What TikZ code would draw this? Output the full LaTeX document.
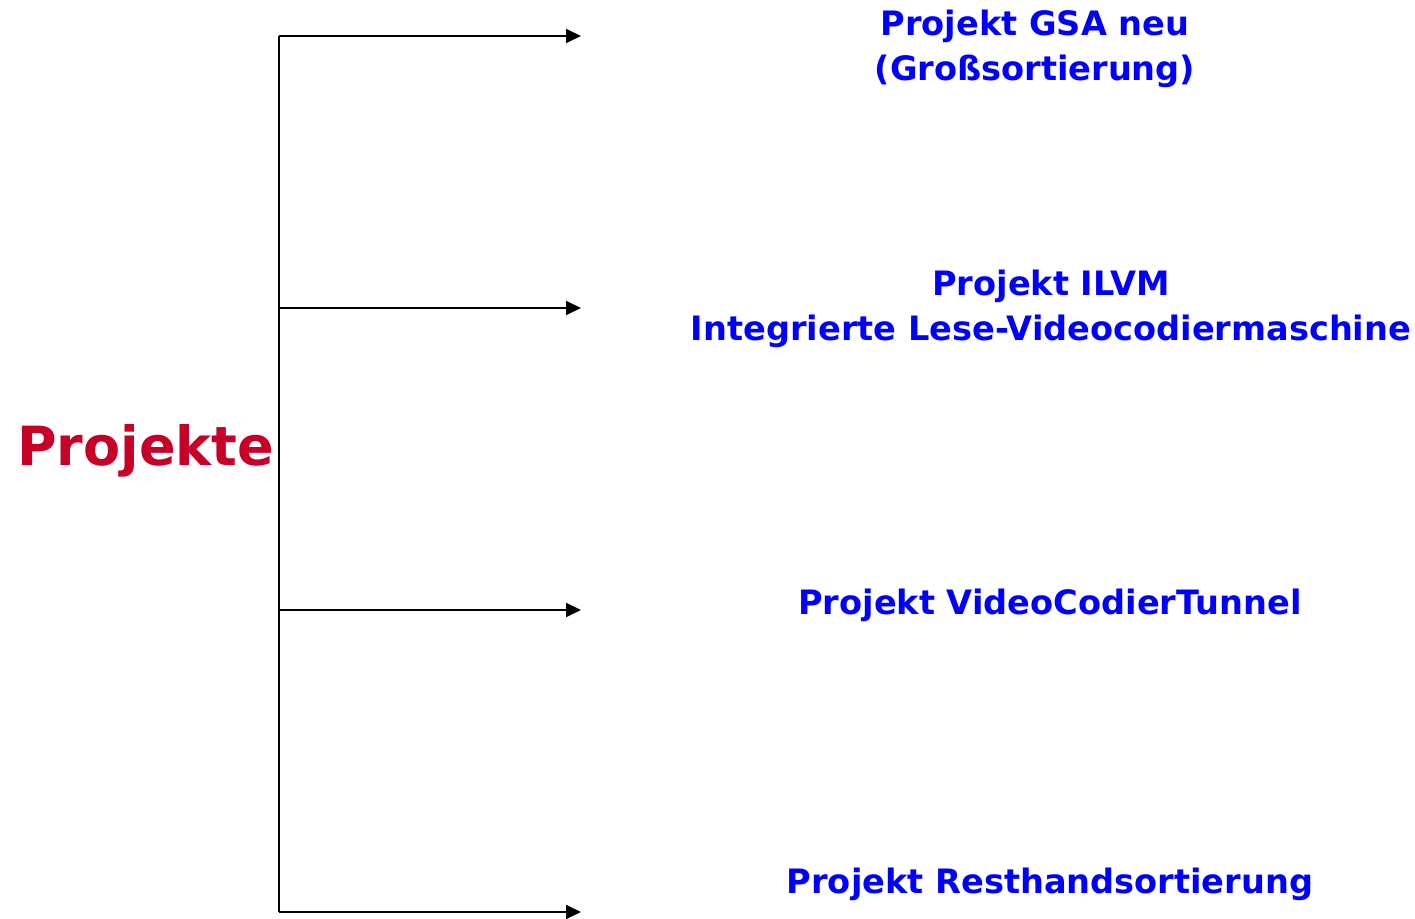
\documentclass[tikz,border=0pt]{standalone}
\usepackage{fontspec}
\setmainfont{DejaVu Sans}
\usetikzlibrary{arrows.meta}

\definecolor{projred}{RGB}{200,0,40}
\definecolor{projblue}{RGB}{0,0,255}

\tikzset{
  projtitle/.style={text=projred, font=\bfseries\fontsize{27}{32}\selectfont, inner sep=0pt},
  projitem/.style={text=projblue, font=\bfseries\fontsize{16.8}{22.5}\selectfont, align=center, inner sep=0pt},
  branch/.style={line width=1pt, -{Triangle[length=7.5pt,width=7pt]}}
}

\begin{document}
\begin{tikzpicture}[x=0.5pt,y=-0.5pt]
  \useasboundingbox (0,0) rectangle (1415,919);

  \coordinate (B1) at (279,36);
  \coordinate (B2) at (279,308);
  \coordinate (B3) at (279,610);
  \coordinate (B4) at (279,912);
  \coordinate (E1) at (581,36);
  \coordinate (E2) at (581,308);
  \coordinate (E3) at (581,610);
  \coordinate (E4) at (581,912);

  \draw [line width=1pt] (B1) -- (B4);
  \draw [branch] (B1) -- (E1);
  \draw [branch] (B2) -- (E2);
  \draw [branch] (B3) -- (E3);
  \draw [branch] (B4) -- (E4);

  \node [projtitle, anchor=base west] (projekte) at (17,466) {Projekte};

  \node [projitem] (gsa) at (1035,49) {Projekt GSA neu\\(Großsortierung)};
  \node [projitem] (ilvm) at (1051,309) {Projekt ILVM\\Integrierte Lese-Videocodiermaschine};
  \node [projitem] (vct) at (1050,605) {Projekt VideoCodierTunnel};
  \node [projitem] (rhs) at (1050,884) {Projekt Resthandsortierung};
\end{tikzpicture}
\end{document}
